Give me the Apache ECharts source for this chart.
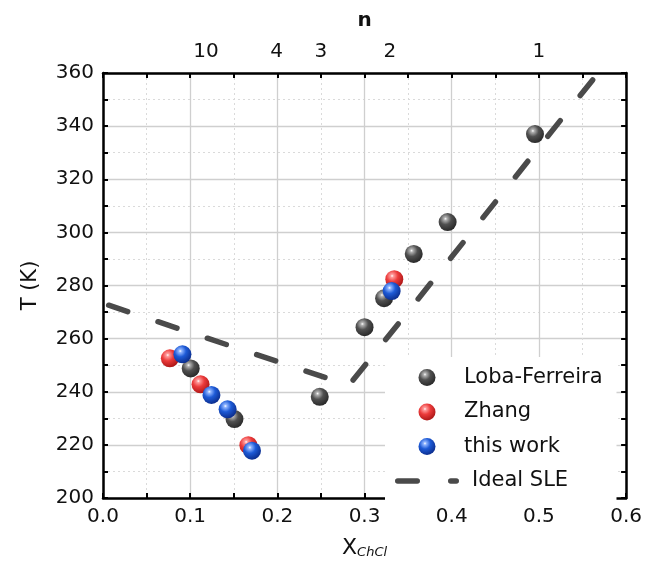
<!DOCTYPE html>
<html>
<head>
<meta charset="utf-8">
<script src="https://cdn.jsdelivr.net/npm/echarts@6/dist/echarts.min.js"></script>
<style>html,body{margin:0;padding:0;background:#fff}#c{width:645px;height:575px}</style>
</head>
<body>
<div id="c"></div>
<script>
// ---- data ----
const lobaFerreira = [[0.1006, 248.8], [0.1508, 229.7], [0.2486, 238.1], [0.300, 264.3], [0.3224, 275.2], [0.3564, 291.9], [0.3953, 303.9], [0.4955, 337.0]];
const zhang = [[0.0767, 252.6], [0.1119, 242.8], [0.1667, 219.9], [0.3341, 282.4]];
const thisWork = [[0.0911, 254.1], [0.1244, 238.8], [0.1429, 233.4], [0.1709, 217.8], [0.3311, 277.9]];
const idealSLE = [[0, 273.3], [0.1, 262.3], [0.2, 251.4], [0.282, 242.4], [0.35, 270.2], [0.45, 311.4], [0.568, 360]];
const topTickX = [0.118, 0.199, 0.25, 0.329, 0.5];
const topTickLabels = ['10', '4', '3', '2', '1'];
const seriesNames = ['Loba-Ferreira', 'Zhang', 'this work', 'Ideal SLE'];

const FONT = 'DejaVu Sans';
function sphere(hi, mid, edge) {
  return {
    type: 'radial', x: 0.38, y: 0.32, r: 0.72,
    colorStops: [
      { offset: 0, color: '#ffffff' },
      { offset: 0.12, color: hi },
      { offset: 0.45, color: mid },
      { offset: 1, color: edge }
    ]
  };
}
const grayC = sphere('#b0b0b0', '#505050', '#262626');
const redC = sphere('#ff9a9a', '#ec3b3b', '#a81414');
const blueC = sphere('#8fb4ff', '#1d5ad6', '#0a2a88');
// legend icon for the dashed line: a long and a short rounded dash
const dashIcon = 'path://M2.75,0L22.25,0A2.75,2.75 0 0 1 22.25,5.5L2.75,5.5A2.75,2.75 0 0 1 2.75,0Z' +
  'M55.75,0L61.25,0A2.75,2.75 0 0 1 61.25,5.5L55.75,5.5A2.75,2.75 0 0 1 55.75,0Z';

const chart = echarts.init(document.getElementById('c'), null, { renderer: 'canvas' });
const axisLineStyle = { color: '#000', width: 2.5 };
chart.setOption({
  animation: false,
  backgroundColor: '#fff',
  textStyle: { fontFamily: FONT },
  grid: { left: 103, right: 13, top: 73, bottom: 77, containLabel: false },
  legend: {
    orient: 'vertical',
    left: 385, top: 357,
    padding: [10, 14, 10, 10],
    backgroundColor: '#fff',
    itemWidth: 64, itemHeight: 17, itemGap: 13.5,
    symbolKeepAspect: true,
    textStyle: { fontFamily: FONT, fontSize: 21, color: '#111' },
    data: [
      { name: seriesNames[0] },
      { name: seriesNames[1] },
      { name: seriesNames[2] },
      { name: seriesNames[3], icon: dashIcon, itemStyle: { color: '#4a4a4a' }, textStyle: { padding: [0, 0, 0, 8] } }
    ]
  },
  xAxis: [{
    type: 'value', min: 0, max: 0.6, interval: 0.1, position: 'bottom',
    name: '{a|X}{b|ChCl}', nameLocation: 'middle', nameGap: 36,
    nameTextStyle: { rich: {
      a: { fontFamily: FONT, fontSize: 22, color: '#111', verticalAlign: 'bottom' },
      b: { fontFamily: FONT, fontSize: 13, fontStyle: 'italic', color: '#111', padding: [12, 0, 0, 0], verticalAlign: 'bottom' }
    } },
    axisLine: { onZero: false, lineStyle: axisLineStyle },
    axisTick: { inside: true, length: 5, lineStyle: { color: '#000', width: 2 } },
    minorTick: { show: true, splitNumber: 2, length: 5, lineStyle: { color: '#000', width: 2 } },
    axisLabel: { fontSize: 20, color: '#111', margin: 9, formatter: v => v.toFixed(1) },
    splitLine: { show: true, lineStyle: { color: '#cfcfcf', width: 1.3 } },
    minorSplitLine: { show: true, lineStyle: { color: '#dadada', width: 1, type: [2, 3] } }
  }, {
    type: 'value', min: 0, max: 0.6, interval: 0.05, position: 'top',
    name: 'n', nameLocation: 'middle', nameGap: 42,
    nameTextStyle: { fontFamily: FONT, fontSize: 20, fontWeight: 'bold', color: '#111' },
    axisLine: { onZero: false, lineStyle: axisLineStyle },
    axisTick: { inside: true, length: 5, lineStyle: { color: '#000', width: 2 } },
    axisLabel: {
      fontSize: 20, color: '#111', margin: 11, customValues: topTickX,
      formatter: v => {
        let best = 0, d = 1e9;
        topTickX.forEach((x, i) => { if (Math.abs(x - v) < d) { d = Math.abs(x - v); best = i; } });
        return topTickLabels[best];
      }
    },
    splitLine: { show: false }
  }],
  yAxis: [{
    type: 'value', min: 200, max: 360, interval: 20, position: 'left',
    name: 'T (K)', nameLocation: 'middle', nameGap: 62,
    nameTextStyle: { fontFamily: FONT, fontSize: 21, color: '#111' },
    axisLine: { onZero: false, lineStyle: axisLineStyle },
    axisTick: { inside: true, length: 5, lineStyle: { color: '#000', width: 2 } },
    minorTick: { show: true, splitNumber: 2, length: 5, lineStyle: { color: '#000', width: 2 } },
    axisLabel: { fontSize: 20, color: '#111', margin: 9 },
    splitLine: { show: true, lineStyle: { color: '#cfcfcf', width: 1.3 } },
    minorSplitLine: { show: true, lineStyle: { color: '#dadada', width: 1, type: [2, 3] } }
  }, {
    type: 'value', min: 200, max: 360, interval: 10, position: 'right',
    axisLine: { onZero: false, lineStyle: axisLineStyle },
    axisTick: { inside: true, length: 5, lineStyle: { color: '#000', width: 2 } },
    axisLabel: { show: false },
    splitLine: { show: false }
  }],
  series: [
    {
      name: seriesNames[3], type: 'line', data: idealSLE, xAxisIndex: 0, yAxisIndex: 0,
      symbol: 'none', showSymbol: false, z: 2,
      lineStyle: { color: '#4a4a4a', width: 5.5, type: [20, 32], dashOffset: -6, cap: 'round' },
      itemStyle: { color: '#4a4a4a' }
    },
    {
      name: seriesNames[0], type: 'scatter', data: lobaFerreira, symbolSize: 18, z: 3,
      itemStyle: { color: grayC, opacity: 1 }
    },
    {
      name: seriesNames[1], type: 'scatter', data: zhang, symbolSize: 18, z: 4,
      itemStyle: { color: redC, opacity: 1 }
    },
    {
      name: seriesNames[2], type: 'scatter', data: thisWork, symbolSize: 18, z: 5,
      itemStyle: { color: blueC, opacity: 1 }
    }
  ]
});
</script>
</body>
</html>
